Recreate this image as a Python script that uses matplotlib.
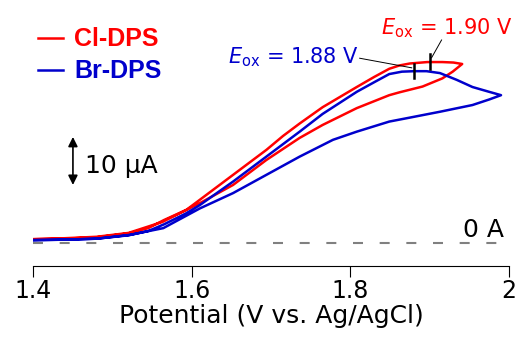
import matplotlib.pyplot as plt

# Cl-DPS, forward and reverse scan
cl_fwd_v = [1.40, 1.44, 1.48, 1.52, 1.545, 1.565, 1.593, 1.61, 1.652, 1.694, 1.715, 1.736, 1.765,
            1.808, 1.83, 1.849, 1.862, 1.875, 1.897, 1.916, 1.93, 1.941]
cl_fwd_i = [0.8, 0.9, 1.2, 2.0, 3.1, 4.8, 6.9, 9.0, 14.2, 19.4, 22.3, 24.9, 28.3,
            32.5, 34.6, 36.3, 37.0, 37.4, 37.7, 37.7, 37.6, 37.3]
cl_rev_v = [1.941, 1.929, 1.916, 1.891, 1.862, 1.849, 1.808, 1.765, 1.736, 1.694, 1.652,
            1.61, 1.563, 1.52, 1.48, 1.44, 1.40]
cl_rev_i = [37.3, 35.7, 34.3, 32.6, 31.4, 30.8, 28.1, 24.6, 21.9, 17.3, 12.1,
            8.3, 4.4, 2.1, 1.3, 1.0, 0.8]

# Br-DPS, forward and reverse scan
br_fwd_v = [1.40, 1.44, 1.48, 1.52, 1.545, 1.565, 1.593, 1.61, 1.652, 1.694, 1.736, 1.765,
            1.808, 1.83, 1.849, 1.865, 1.881, 1.896, 1.913, 1.934, 1.954, 1.975, 1.99]
br_fwd_i = [0.6, 0.7, 0.9, 1.6, 2.5, 3.9, 6.2, 7.9, 12.8, 18.0, 23.2, 26.9,
            31.5, 33.5, 35.2, 35.7, 35.8, 35.8, 35.4, 34.0, 32.5, 31.5, 30.8]
br_rev_v = [1.99, 1.975, 1.954, 1.913, 1.871, 1.849, 1.808, 1.778, 1.736, 1.694, 1.652,
            1.61, 1.564, 1.522, 1.48, 1.44, 1.40]
br_rev_i = [30.8, 29.9, 28.75, 27.35, 26.0, 25.3, 23.2, 21.5, 18.0, 14.2, 10.4,
            7.2, 3.1, 1.7, 0.9, 0.7, 0.6]

eox_cl = 1.90
eox_br = 1.88

red = '#ff0000'
blue = '#0000cc'

fig = plt.figure(figsize=(5.21, 3.52), dpi=100)
ax = fig.add_axes([0.0639, 0.2443, 0.913, 0.7557])

ax.plot(cl_fwd_v + cl_rev_v, cl_fwd_i + cl_rev_i, color=red, lw=1.8, label='Cl-DPS')
ax.plot(br_fwd_v + br_rev_v, br_fwd_i + br_rev_i, color=blue, lw=1.8, label='Br-DPS')

# zero current line
ax.hlines(0, 1.4, 1.99, colors='#808080', lw=1.5, linestyles=(0, (4.8, 8)))
ax.text(1.994, 1.25, '0 A', ha='right', va='baseline', fontsize=18)

# scale bar
ax.annotate('', xy=(1.45, 22.1), xytext=(1.45, 12.1),
            arrowprops=dict(arrowstyle='<|-|>', color='black', lw=1.2, mutation_scale=14,
                            shrinkA=0, shrinkB=0))
ax.text(1.465, 14.6, '10 \u03bcA', ha='left', va='baseline', fontsize=18)

# peak markers
ax.plot([eox_cl, eox_cl], [36.2, 39.4], color='black', lw=1.8)
ax.plot([eox_br, eox_br], [34.4, 37.3], color='black', lw=1.8)
ax.plot([1.915, 1.9024], [42.3, 38.6], color='black', lw=0.7)
ax.plot([1.8117, 1.8773], [38.5, 36.5], color='black', lw=0.7)
ax.text(1.838, 43.5, r'$E_{\rm ox}$ = 1.90 V', color=red, fontsize=15, va='baseline')
ax.text(1.645, 37.5, r'$E_{\rm ox}$ = 1.88 V', color=blue, fontsize=15, va='baseline')

leg = ax.legend(loc='upper left', bbox_to_anchor=(0.073, 0.922), bbox_transform=fig.transFigure,
                frameon=False, handlelength=1.0, handletextpad=0.45, labelspacing=0.32,
                borderpad=0, borderaxespad=0,
                prop={'family': 'Liberation Sans', 'weight': 'bold', 'size': 18})
for txt, c in zip(leg.get_texts(), [red, blue]):
    txt.set_color(c)

ax.set_xlim(1.4, 2.0)
ax.set_ylim(-4.79, 50.63)
ax.set_xticks([1.4, 1.6, 1.8, 2.0])
ax.set_xticklabels(['1.4', '1.6', '1.8', '2'])
ax.tick_params(axis='x', direction='out', length=8, width=0.8, labelsize=17, pad=1)
ax.set_yticks([])
for s in ['left', 'top', 'right']:
    ax.spines[s].set_visible(False)
ax.spines['bottom'].set_linewidth(0.8)
ax.set_xlabel('Potential (V vs. Ag/AgCl)', fontsize=18, labelpad=1)

fig.savefig('out.png', dpi=100)
